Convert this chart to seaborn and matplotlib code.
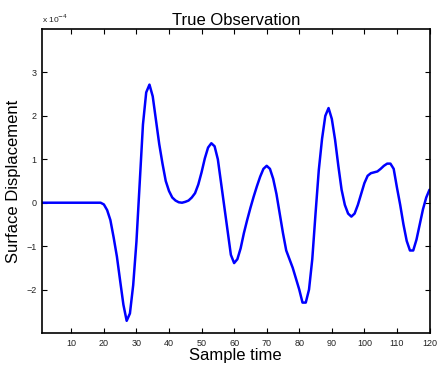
import numpy as np
import pandas as pd
import matplotlib
matplotlib.use("Agg")
import matplotlib.pyplot as plt
import seaborn as sns

# Sample times 1..120 and surface displacement (in units of 1e-4)
sample_time = list(range(1, 121))
displacement_e4 = [
    0, 0, 0, 0, 0, 0, 0, 0, 0, 0,
    0, 0, 0, 0, 0, 0, 0, 0, 0, -0.04,
    -0.17, -0.40, -0.80, -1.24, -1.80, -2.35, -2.72, -2.55, -1.90, -0.90,
    0.45, 1.80, 2.54, 2.72, 2.45, 1.90, 1.35, 0.90, 0.50, 0.27,
    0.12, 0.05, 0.01, 0.00, 0.02, 0.05, 0.12, 0.22, 0.42, 0.70,
    1.02, 1.27, 1.37, 1.30, 1.00, 0.45, -0.10, -0.65, -1.20, -1.39,
    -1.30, -1.05, -0.70, -0.40, -0.12, 0.14, 0.38, 0.60, 0.78, 0.85,
    0.78, 0.55, 0.20, -0.25, -0.70, -1.10, -1.30, -1.50, -1.75, -2.00,
    -2.30, -2.30, -2.00, -1.30, -0.25, 0.75, 1.47, 2.00, 2.18, 1.93,
    1.45, 0.85, 0.30, -0.05, -0.25, -0.32, -0.25, -0.05, 0.20, 0.45,
    0.62, 0.68, 0.70, 0.72, 0.78, 0.85, 0.90, 0.90, 0.78, 0.35,
    -0.05, -0.50, -0.88, -1.10, -1.10, -0.85, -0.50, -0.15, 0.12, 0.30,
]
scale = 1e-4
y_ticks_e4 = [-2, -1, 0, 1, 2, 3]
x_ticks = [10, 20, 30, 40, 50, 60, 70, 80, 90, 100, 110, 120]

df = pd.DataFrame({"t": sample_time, "u": np.array(displacement_e4) * scale})

sns.set_style("white")
plt.rcParams["font.family"] = ["Liberation Sans", "DejaVu Sans"]
plt.rcParams["axes.unicode_minus"] = True
plt.rcParams["text.color"] = "black"
plt.rcParams["axes.labelcolor"] = "black"

fig = plt.figure(figsize=(4.38, 3.65), dpi=100)
ax = fig.add_axes([0.0959, 0.0877, 0.9806 - 0.0959, 0.9205 - 0.0877])

sns.lineplot(data=df, x="t", y="u", ax=ax, color=(0, 0, 1), linewidth=1.8)

ax.set_xlim(1, 120)
ax.set_ylim(-3e-4, 4e-4)
ax.set_xticks(x_ticks)
ax.set_xticklabels([str(v) for v in x_ticks])
ax.set_yticks([v * scale for v in y_ticks_e4])
ax.set_yticklabels([("\u2212" + str(-v)) if v < 0 else str(v) for v in y_ticks_e4])

ax.tick_params(direction="in", length=3.5, width=0.8, labelsize=6.5,
               top=True, right=True, bottom=True, left=True, pad=4,
               colors="black", labelcolor="#222222")
for s in ax.spines.values():
    s.set_visible(True)
    s.set_color("black")
    s.set_linewidth(1.2)

ax.set_title("True Observation", fontsize=12, pad=3, color="black")
ax.set_xlabel("Sample time", fontsize=12, labelpad=0, color="black")
ax.set_ylabel("Surface Displacement", fontsize=12, labelpad=4, color="black")
ax.text(0.0, 1.012, r"x 10$^{-4}$", transform=ax.transAxes, fontsize=6,
        ha="left", va="bottom", color="#222222")

fig.savefig("out.png", dpi=100)
